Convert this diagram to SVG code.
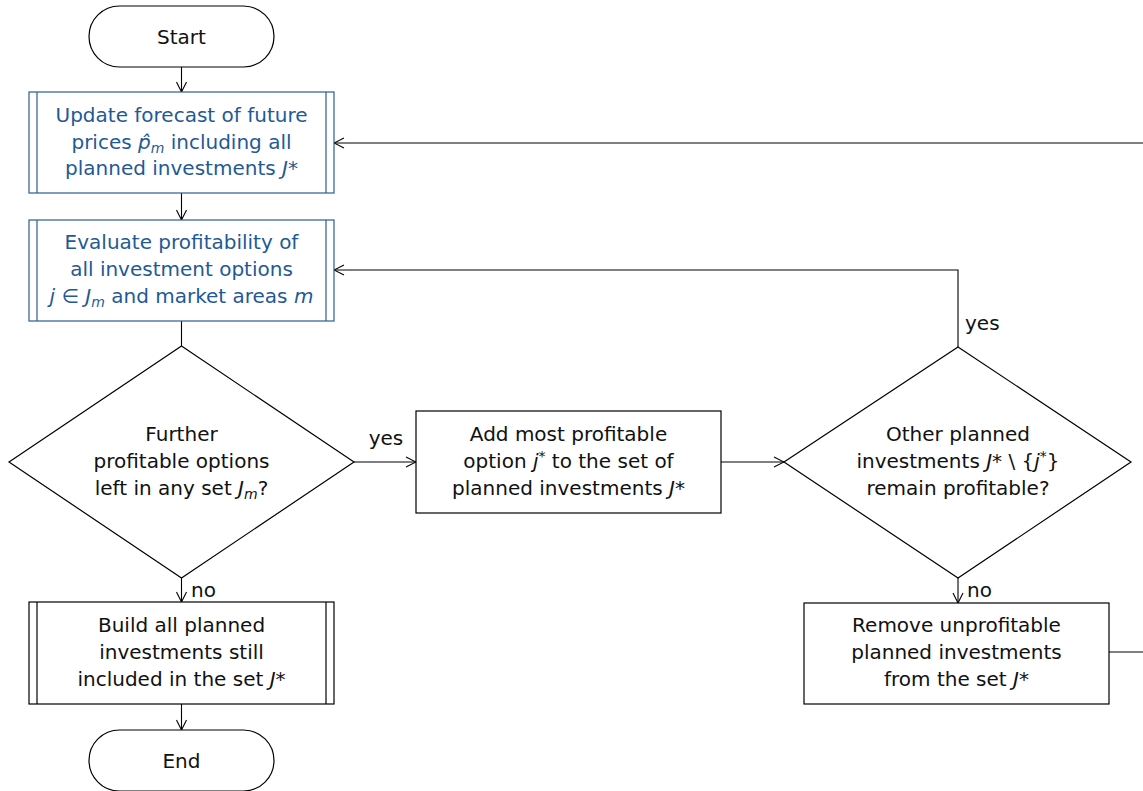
<svg xmlns="http://www.w3.org/2000/svg" width="1143" height="791" viewBox="0 0 1143 791">
<defs>
<marker id="arr" viewBox="0 0 12 12" refX="11" refY="6" markerWidth="12" markerHeight="12" markerUnits="userSpaceOnUse" orient="auto">
<path d="M1,1 L11,6 L1,11" fill="none" stroke="#000" stroke-width="1.1"/>
</marker>
<style>
.n{fill:#fff;stroke:#000;stroke-width:1.2}
.b{fill:#fff;stroke:#2a5d91;stroke-width:1.2}
.bl{stroke:#2a5d91;stroke-width:1.2}
.k{stroke:#000;stroke-width:1.2}
text{font-family:"DejaVu Sans","Liberation Sans",sans-serif;font-size:20px;text-anchor:middle;fill:#111}
.t{fill:#1f5a96}
.i{font-style:italic}
.s{font-size:14px}
.c{fill:none;stroke:#000;stroke-width:1.1}
</style>
</defs>
<g id="connectors">
<path class="c" d="M181.5,67 V92" marker-end="url(#arr)"/>
<path class="c" d="M181.5,193 V220" marker-end="url(#arr)"/>
<path class="c" d="M181.5,321 V346"/>
<path class="c" d="M181.5,578 V602" marker-end="url(#arr)"/>
<path class="c" d="M181.5,704 V730" marker-end="url(#arr)"/>
<path class="c" d="M354,462 H416" marker-end="url(#arr)"/>
<path class="c" d="M721,462 H784" marker-end="url(#arr)"/>
<path class="c" d="M958,347 V270 H334" marker-end="url(#arr)"/>
<path class="c" d="M958,578 V603" marker-end="url(#arr)"/>
<path class="c" d="M1109,652 H1143"/>
<path class="c" d="M1143,143 H334" marker-end="url(#arr)"/>
<text x="386" y="445">yes</text>
<text x="191" y="597" style="text-anchor:start">no</text>
<text x="965" y="330" style="text-anchor:start">yes</text>
<text x="967" y="597" style="text-anchor:start">no</text>
</g>
<g id="start">
<rect class="n" x="89" y="6" width="185" height="61" rx="30.5"/>
<text x="181.5" y="44">Start</text>
</g>
<g id="update">
<rect class="b" x="29" y="92" width="305" height="101"/>
<line class="bl" x1="37" y1="92" x2="37" y2="193"/>
<line class="bl" x1="326" y1="92" x2="326" y2="193"/>
<text class="t" x="181.5" y="122">Update forecast of future</text>
<text class="t" x="181.5" y="149">prices <tspan class="i">p̂</tspan><tspan class="i s" dy="4">m</tspan><tspan dy="-4"> including all</tspan></text>
<text class="t" x="181.5" y="175">planned investments <tspan class="i">J</tspan>*</text>
</g>
<g id="evaluate">
<rect class="b" x="29" y="220" width="305" height="101"/>
<line class="bl" x1="37" y1="220" x2="37" y2="321"/>
<line class="bl" x1="326" y1="220" x2="326" y2="321"/>
<text class="t" x="181.5" y="249">Evaluate profitability of</text>
<text class="t" x="181.5" y="276">all investment options</text>
<text class="t" x="181.5" y="303"><tspan class="i">j</tspan> ∈ <tspan class="i">J</tspan><tspan class="i s" dy="4">m</tspan><tspan dy="-4"> and market areas </tspan><tspan class="i">m</tspan></text>
</g>
<g id="further">
<polygon class="n" points="181.5,346 354,462 181.5,578 9,462"/>
<text x="181.5" y="441">Further</text>
<text x="181.5" y="468">profitable options</text>
<text x="181.5" y="495">left in any set <tspan class="i">J</tspan><tspan class="i s" dy="4">m</tspan><tspan dy="-4">?</tspan></text>
</g>
<g id="add">
<rect class="n" x="416" y="411" width="305" height="102"/>
<text x="568.5" y="441">Add most profitable</text>
<text x="568.5" y="468">option <tspan class="i">j</tspan><tspan class="s" dy="-7">*</tspan><tspan dy="7"> to the set of</tspan></text>
<text x="568.5" y="495">planned investments <tspan class="i">J</tspan>*</text>
</g>
<g id="other">
<polygon class="n" points="958,347 1131,462 958,578 784,462"/>
<text x="958" y="441">Other planned</text>
<text x="958" y="468">investments <tspan class="i">J</tspan>* \ {<tspan class="i">j</tspan><tspan class="s" dy="-7">*</tspan><tspan dy="7">}</tspan></text>
<text x="958" y="495">remain profitable?</text>
</g>
<g id="build">
<rect class="n" x="29" y="602" width="305" height="102"/>
<line class="k" x1="37" y1="602" x2="37" y2="704"/>
<line class="k" x1="326" y1="602" x2="326" y2="704"/>
<text x="181.5" y="632">Build all planned</text>
<text x="181.5" y="659">investments still</text>
<text x="181.5" y="686">included in the set <tspan class="i">J</tspan>*</text>
</g>
<g id="remove">
<rect class="n" x="804" y="603" width="305" height="101"/>
<text x="956.5" y="632">Remove unprofitable</text>
<text x="956.5" y="659">planned investments</text>
<text x="956.5" y="686">from the set <tspan class="i">J</tspan>*</text>
</g>
<g id="end">
<rect class="n" x="89" y="730" width="185" height="61" rx="30.5"/>
<text x="181.5" y="768">End</text>
</g>
</svg>
